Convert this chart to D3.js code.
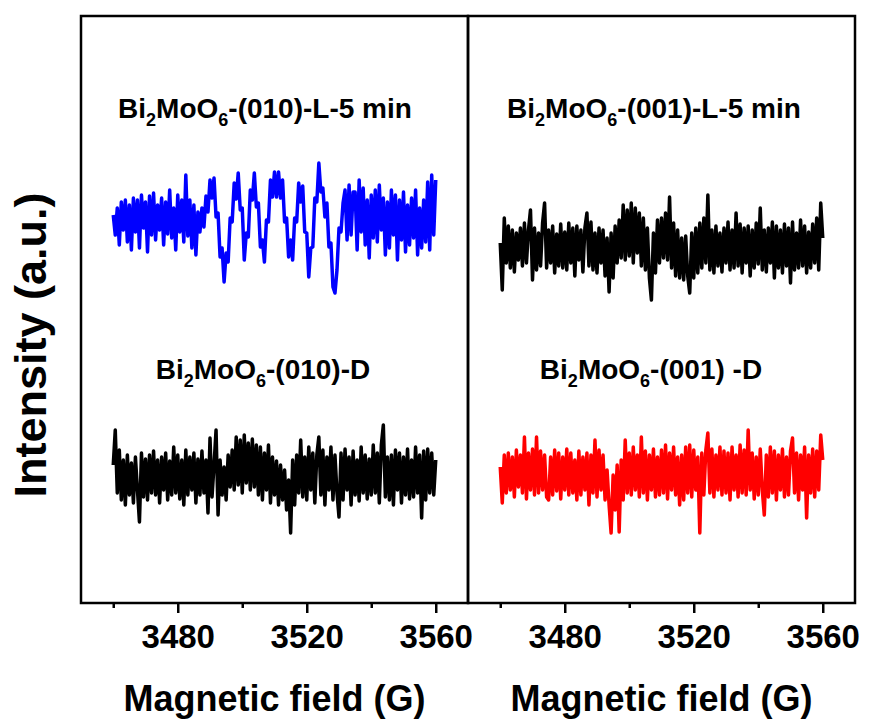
<!DOCTYPE html>
<html>
<head>
<meta charset="utf-8">
<script src="https://cdn.jsdelivr.net/npm/d3@7"></script>
<style>
body { margin: 0; background: #fff; }
text { font-family: "Liberation Sans", Arial, sans-serif; font-weight: bold; fill: #000; }
</style>
</head>
<body>
<script>
// field range of each sweep (G)
var fieldStart = 3460, fieldEnd = 3560;

// EPR signals, deviation from each trace's baseline (a.u.)
var sig010L = [5, -15, 12, -25, 18, -10, 20, -22, 15, -30,
    22, -12, 20, -28, 25, -8, 18, -32, 24, -15,
    27, -20, 15, -10, 22, -25, 18, -14, 30, -18,
    12, -30, 25, -12, 20, -22, 45, -16, 20, -28,
    15, -35, 8, -12, 12, -7, 24, 8, 40, 22,
    42, 3, 7, -37, -28, -62, -33, -42, 2, -2,
    37, 21, 47, 10, 12, -40, -13, -17, 30, 20,
    47, 13, 17, -27, -20, -42, 0, -2, 40, 23,
    48, 23, 48, 22, 40, -2, 2, -37, -20, -40,
    2, -2, 37, 18, 34, -12, -13, -57, -28, -27,
    22, 18, 57, 28, 32, 3, 17, -27, -23, -67,
    -73, -50, -8, -12, 17, 30, -20, 35, -15, 28,
    28, -30, 40, -12, 32, -25, 20, -38, 25, -18,
    30, -22, 35, -10, 22, -35, 18, -28, 30, -15,
    25, -40, 20, -20, 28, -32, 15, -25, 22, -18,
    30, -35, 12, -28, 20, -22, 38, -30, 45, -15,
    40];

var sig010D = [10, 45, -18, 25, -25, 15, -30, 20, -20, 12,
    -28, 18, -15, -47, 22, -22, 16, -25, 20, -18,
    24, -20, 15, -28, 18, -15, 22, -25, 14, -20,
    28, -18, 20, -24, 15, -30, 25, -20, 18, -15,
    22, -28, 16, -20, 24, -18, 15, -38, 37, -22,
    10, 45, -40, 15, -20, 8, -25, 20, -12, 25,
    -15, 38, -10, 35, -18, 40, -8, 32, -15, 36,
    -12, 30, -20, 28, -25, 22, -15, 30, -28, 18,
    -20, 14, -30, 10, -25, 5, -35, -5, -58, 15,
    -30, 20, -18, 35, -22, 18, -25, 28, -15, 22,
    -28, 20, 38, -20, 25, -30, 18, -15, 28, -25,
    20, -18, -42, 22, -25, 26, -15, 18, -30, 24,
    -20, 15, -26, 28, -18, 20, -24, 16, -20, 30,
    -18, 22, -28, 30, 50, -22, 18, -25, 20, -30,
    25, -15, 22, -28, 18, -20, 26, -24, 15, -22,
    28, -18, 20, -43, 24, -25, 26, -18, 22, -20,
    15];

var sig001L = [5, -42, 30, -15, 22, -20, 18, -24, 15, -12,
    20, -18, 25, -15, 18, 38, -32, 20, -22, 15,
    -18, 25, 45, -20, 18, -15, 22, -25, 14, -18,
    24, -20, 16, -22, 25, -15, 20, -28, 22, -12,
    18, -24, 20, 35, -18, 26, -22, 15, -25, 20,
    -15, 18, -28, 10, -44, 15, -30, 22, -15, 28,
    -10, 43, -12, 38, -8, 45, -15, 40, -5, 35,
    -18, 30, -22, 20, -30, -52, 15, -25, 28, -15,
    30, -10, 35, -12, 51, -20, 25, -28, 18, -30,
    10, -32, 12, -28, -45, 15, -30, 20, -25, 25,
    -20, 30, -15, 53, -22, 18, -25, 22, -18, 15,
    -24, 20, -15, 26, -22, 18, -20, 35, -18, 24,
    -25, 20, -15, 22, -28, 18, -20, 25, -16, 40,
    -22, 18, -24, 20, -15, 26, -30, 22, -20, 18,
    -25, 24, -18, 20, -35, 26, -22, 15, -20, 28,
    -18, 22, -25, 16, -20, 24, -15, 30, -22, 45,
    10];

var sig001D = [8, -28, 20, -18, 22, -15, 18, -22, 25, -12,
    20, -18, 38, -24, 22, -15, 26, -20, 38, -18,
    24, -15, 20, -22, -25, 18, -20, 25, -16, 22,
    -24, 18, -15, 26, -20, 22, -18, 15, -25, 24,
    -20, 18, -15, 22, -30, 20, -18, 35, -22, 25,
    -15, 20, -25, 5, -30, -58, 0, -35, 10, -57,
    15, -25, 35, -18, 22, -20, 28, -15, 20, -22,
    38, -18, 24, -25, 20, -15, 26, -22, 18, -20,
    25, -18, 30, -24, 22, -15, 28, -20, 18, -30,
    20, -25, 28, -18, 30, -22, 25, -15, 18, -58,
    22, -20, 25, 42, -18, 26, -22, 20, -15, 28,
    -20, 24, -18, 22, -25, 28, -15, 20, -22, 30,
    -18, 25, -20, 45, -15, 22, -24, 18, -20, 26,
    -15, -40, 20, -22, 28, -18, 24, -25, 20, -15,
    26, -22, 18, -20, 24, 37, -18, 22, -25, 20,
    -15, 28, -43, 20, -18, 26, -22, 24, -15, 40,
    15];

// baseline (stacking offset) of each trace, a.u.
var offsets = [383, 128, 355, 128];
var colors = ["#0000ff", "#000000", "#000000", "#ff0000"];

var majorTicks = [3480, 3520, 3560];
var minorTicks = [3460, 3500, 3540];

var labels = [
    ["Bi", "MoO", "-(010)-L-5 min"],
    ["Bi", "MoO", "-(010)-D"],
    ["Bi", "MoO", "-(001)-L-5 min"],
    ["Bi", "MoO", "-(001) -D"]
];

var W = 869, H = 720;
var plotTop = 16, plotBottom = 603;

var svg = d3.select("body").append("svg")
    .attr("width", W)
    .attr("height", H);

var y = d3.scaleLinear().domain([0, plotBottom - plotTop]).range([plotBottom, plotTop]);

// two panels side by side, sharing the divider
var panels = [
    { x0: 81, x1: 468, series: [0, 1] },
    { x0: 468, x1: 855, series: [2, 3] }
];
var signals = [sig010L, sig010D, sig001L, sig001D];
var titleX = [265, 263, 654, 651];
var titleY = [118, 379, 118, 379];

panels.forEach(function (p) {
    var x = d3.scaleLinear().domain([3450, 3570]).range([p.x0, p.x1]);

    // traces
    p.series.forEach(function (s) {
        var vals = signals[s];
        var n = vals.length;
        var line = d3.line()
            .x(function (d, i) { return x(fieldStart + i * (fieldEnd - fieldStart) / (n - 1)); })
            .y(function (d) { return y(offsets[s] + d); });
        svg.append("path")
            .datum(vals)
            .attr("fill", "none")
            .attr("stroke", colors[s])
            .attr("stroke-width", 3.5)
            .attr("stroke-linejoin", "round")
            .attr("d", line);

        // sample label with subscripts
        var t = svg.append("text")
            .attr("x", titleX[s])
            .attr("y", titleY[s])
            .attr("text-anchor", "middle")
            .style("font-size", "28px");
        t.append("tspan").text(labels[s][0]);
        t.append("tspan").attr("dy", 8).style("font-size", "18px").text("2");
        t.append("tspan").attr("dy", -8).text(labels[s][1]);
        t.append("tspan").attr("dy", 8).style("font-size", "18px").text("6");
        t.append("tspan").attr("dy", -8).text(labels[s][2]);
    });

    // frame
    svg.append("rect")
        .attr("x", p.x0)
        .attr("y", plotTop)
        .attr("width", p.x1 - p.x0)
        .attr("height", plotBottom - plotTop)
        .attr("fill", "none")
        .attr("stroke", "#000")
        .attr("stroke-width", 2.5);

    // major ticks with labels
    var ax = svg.append("g")
        .attr("transform", "translate(0," + plotBottom + ")")
        .call(d3.axisBottom(x).tickValues(majorTicks).tickSize(10).tickPadding(12).tickFormat(d3.format("d")));
    ax.select(".domain").remove();
    ax.selectAll("line").attr("stroke-width", 2.5);
    ax.selectAll("text")
        .style("font-size", "33px")
        .style("font-family", "'Liberation Sans', Arial, sans-serif")
        .style("font-weight", "bold");

    // minor ticks
    var mx = svg.append("g")
        .attr("transform", "translate(0," + plotBottom + ")")
        .call(d3.axisBottom(x).tickValues(minorTicks).tickSize(5).tickFormat(""));
    mx.select(".domain").remove();
    mx.selectAll("line").attr("stroke-width", 2.5);

    // x axis title
    svg.append("text")
        .attr("x", (p.x0 + p.x1) / 2)
        .attr("y", 711)
        .attr("text-anchor", "middle")
        .style("font-size", "36px")
        .text("Magnetic field (G)");
});

// y axis title
svg.append("text")
    .attr("transform", "translate(46,345) rotate(-90)")
    .attr("text-anchor", "middle")
    .style("font-size", "45px")
    .text("Intensity (a.u.)");
</script>
</body>
</html>
